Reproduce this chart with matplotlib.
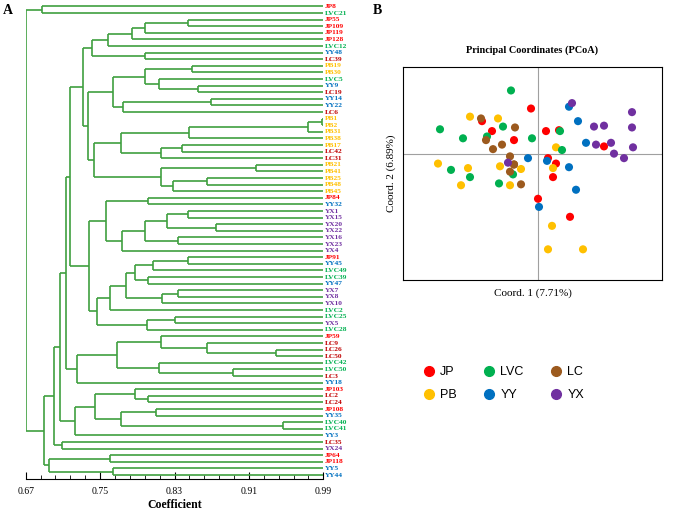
import matplotlib
matplotlib.use("Agg")
import matplotlib.pyplot as plt
from matplotlib.lines import Line2D

plt.rcParams['font.family'] = ['Liberation Serif', 'DejaVu Serif']

# leaf order of the UPGMA tree (top to bottom)
leaves = ["JP8", "LVC21", "JP55", "JP109", "JP119", "JP128", "LVC12", "YY48", "LC39",
          "PB19", "PB30", "LVC5", "YY9", "LC19", "YY14", "YY22", "LC6", "PB1", "PB2",
          "PB31", "PB38", "PB17", "LC42", "LC31", "PB21", "PB41", "PB25", "PB48", "PB45",
          "JP84", "YY32", "YX1", "YX15", "YX20", "YX22", "YX16", "YX23", "YX4", "JP91",
          "YY45", "LVC49", "LVC39", "YY47", "YX7", "YX8", "YX10", "LVC2", "LVC25", "YX5",
          "LVC28", "JP59", "LC9", "LC26", "LC50", "LVC42", "LVC50", "LC3", "YY18", "JP103",
          "LC2", "LC24", "JP108", "YY35", "LVC40", "LVC41", "YY3", "LC35", "YX24", "JP64",
          "JP118", "YY5", "YY44"]

# merges: (node, left, right, coefficient)
merges = [
    ("a1", "JP8", "LVC21", 0.687),
    ("a2", "JP55", "JP109", 0.845),
    ("a3", "a2", "JP119", 0.798),
    ("a4", "a3", "JP128", 0.784),
    ("a5", "a4", "LVC12", 0.758),
    ("a6", "YY48", "LC39", 0.798),
    ("a7", "a5", "a6", 0.741),
    ("b1", "PB19", "PB30", 0.849),
    ("b2", "YY9", "LC19", 0.855),
    ("b3", "LVC5", "b2", 0.813),
    ("b4", "b1", "b3", 0.798),
    ("b5", "YY14", "YY22", 0.869),
    ("b6", "b5", "LC6", 0.775),
    ("b7", "b4", "b6", 0.764),
    ("c1", "PB1", "PB2", 0.989),
    ("c2", "c1", "PB31", 0.974),
    ("c3", "c2", "PB38", 0.846),
    ("c4", "PB17", "LC42", 0.838),
    ("c5", "c4", "LC31", 0.816),
    ("c6", "c3", "c5", 0.773),
    ("c7", "PB21", "PB41", 0.918),
    ("c8", "PB25", "PB48", 0.865),
    ("c9", "c8", "PB45", 0.828),
    ("c10", "c7", "c9", 0.816),
    ("c11", "c6", "c10", 0.743),
    ("c12", "b7", "c11", 0.737),
    ("c13", "a7", "c12", 0.732),
    ("d1", "JP84", "YY32", 0.802),
    ("d2", "YX1", "YX15", 0.845),
    ("d3", "YX20", "YX22", 0.875),
    ("d4", "d2", "d3", 0.822),
    ("d5", "YX16", "YX23", 0.834),
    ("d6", "d4", "d5", 0.798),
    ("d7", "d6", "YX4", 0.774),
    ("d8", "d1", "d7", 0.756),
    ("e1", "JP91", "YY45", 0.844),
    ("e2", "e1", "LVC49", 0.807),
    ("e3", "LVC39", "YY47", 0.802),
    ("e4", "e2", "e3", 0.787),
    ("e5", "YX7", "YX8", 0.834),
    ("e6", "e5", "YX10", 0.817),
    ("e7", "e4", "e6", 0.778),
    ("e8", "e7", "LVC2", 0.761),
    ("e9", "LVC25", "YX5", 0.831),
    ("e10", "e9", "LVC28", 0.800),
    ("e11", "e8", "e10", 0.747),
    ("e12", "d8", "e11", 0.738),
    ("f1", "c13", "e12", 0.718),
    ("g1", "LC26", "LC50", 0.939),
    ("g2", "LC9", "g1", 0.865),
    ("g3", "JP59", "g2", 0.816),
    ("g4", "LVC50", "LC3", 0.893),
    ("g5", "LVC42", "g4", 0.813),
    ("g6", "g3", "g5", 0.768),
    ("g7", "g6", "YY18", 0.725),
    ("f2", "f1", "g7", 0.713),
    ("h1", "LC2", "LC24", 0.802),
    ("h2", "JP103", "h1", 0.787),
    ("h3", "JP108", "YY35", 0.810),
    ("h4", "LVC40", "LVC41", 0.947),
    ("h5", "h3", "h4", 0.773),
    ("h6", "h2", "h5", 0.745),
    ("h7", "h6", "YY3", 0.723),
    ("f3", "f2", "h7", 0.707),
    ("i1", "LC35", "YX24", 0.709),
    ("f4", "f3", "i1", 0.700),
    ("j1", "JP64", "JP118", 0.761),
    ("j2", "YY5", "YY44", 0.764),
    ("j3", "j1", "j2", 0.695),
    ("f5", "f4", "j3", 0.690),
    ("root", "a1", "f5", 0.670),
]

groups = ["JP", "PB", "LVC", "YY", "LC", "YX"]
group_colors = ["#ff0000", "#ffc000", "#00b050", "#0070c0", "#9c5a1e", "#7030a0"]
label_colors = {"JP": "#ff0000", "PB": "#ffc000", "LVC": "#00b050",
                "YY": "#0070c0", "LC": "#c00000", "YX": "#7030a0"}

# PCoA scores (coord1, coord2) per population
pcoa_x = {
    "JP": [-0.07, -0.56, -0.46, 0.08, 0.21, -0.24, 0.66, 0.10, 0.18, 0.15, 0.0, 0.32],
    "PB": [-0.68, -0.40, 0.18, -1.00, -0.70, -0.38, -0.77, -0.28, -0.17, 0.15, 0.14, 0.10, 0.45],
    "LVC": [-0.27, -0.98, -0.75, -0.51, -0.35, -0.06, 0.22, 0.24, -0.87, -0.68, -0.39, -0.25],
    "YY": [0.31, 0.40, -0.10, 0.09, 0.31, 0.38, 0.01, 0.48],
    "LC": [-0.57, -0.23, -0.52, -0.45, -0.36, -0.28, -0.24, -0.28, -0.17, -0.24],
    "YX": [0.34, 0.56, 0.66, 0.94, 0.58, 0.73, 0.95, 0.86, 0.76, -0.30, 0.94],
}
pcoa_y = {
    "JP": [0.50, 0.36, 0.25, 0.25, 0.26, 0.15, 0.08, -0.05, -0.11, -0.26, -0.50, -0.70],
    "PB": [0.41, 0.39, 0.07, -0.11, -0.16, -0.14, -0.35, -0.35, -0.17, -0.16, -0.80, -1.06, -1.06],
    "LVC": [0.70, 0.27, 0.17, 0.19, 0.30, 0.17, 0.25, 0.04, -0.18, -0.26, -0.33, -0.23],
    "YY": [0.52, 0.36, -0.05, -0.08, -0.15, -0.40, -0.59, 0.12],
    "LC": [0.39, 0.29, 0.15, 0.05, 0.10, -0.03, -0.12, -0.20, -0.34, -0.12],
    "YX": [0.56, 0.30, 0.31, 0.29, 0.10, 0.12, 0.07, -0.05, 0.00, -0.10, 0.46],
}

fig = plt.figure(figsize=(6.85, 5.12), dpi=100)

# ---------------- A: dendrogram ----------------
ax = fig.add_axes([25.7 / 685, 1 - 479 / 512, 297.6 / 685, 479 / 512])
line_kw = dict(color="#3f9f3f", lw=1.2, solid_capstyle="butt")

pos = {name: (0.99, i) for i, name in enumerate(leaves)}
for node, a, b, c in merges:
    xa, ya = pos[a]
    xb, yb = pos[b]
    ax.plot([c, xa], [ya, ya], **line_kw)
    ax.plot([c, xb], [yb, yb], **line_kw)
    ax.plot([c, c], [ya, yb], **line_kw)
    pos[node] = (c, (ya + yb) / 2)

for i, name in enumerate(leaves):
    prefix = name.rstrip("0123456789")
    ax.text(0.9915, i, name, color=label_colors[prefix], fontsize=5.3,
            fontweight="bold", va="center", ha="left", clip_on=False)

ax.set_xlim(0.67, 0.99)
ax.set_ylim(71 + 4 / 6.6, -6.5 / 6.6)
for s in ["top", "right", "left"]:
    ax.spines[s].set_visible(False)
ax.set_yticks([])
ax.set_xticks([0.67, 0.75, 0.83, 0.91, 0.99])
ax.set_xticks([0.67 + 0.016 * k for k in range(21)], minor=True)
ax.tick_params(axis="x", which="major", direction="in", length=5, labelsize=7, pad=6)
ax.tick_params(axis="x", which="minor", direction="in", length=3)
ax.set_xlabel("Coefficient", fontsize=8.5, fontweight="bold", labelpad=2)
fig.text(3 / 685, 1 - 10 / 512, "A", fontsize=10, fontweight="bold", va="center")

# ---------------- B: PCoA ----------------
bx = fig.add_axes([403 / 685, 1 - 280 / 512, 259 / 685, 213 / 512])
for g, col in zip(groups, group_colors):
    bx.scatter(pcoa_x[g], pcoa_y[g], s=34, color=col, edgecolors="none", zorder=3)
bx.axhline(0, color="#a0a0a0", lw=0.8, zorder=1)
bx.axvline(0, color="#a0a0a0", lw=0.8, zorder=1)
bx.set_xlim(-1.35, 1.24)
bx.set_ylim(-1.40, 0.96)
bx.set_xticks([])
bx.set_yticks([])
for s in bx.spines.values():
    s.set_linewidth(0.8)
bx.set_title("Principal Coordinates (PCoA)", fontsize=7.4, fontweight="bold", pad=10)
bx.set_xlabel("Coord. 1 (7.71%)", fontsize=8, labelpad=6)
bx.set_ylabel("Coord. 2 (6.89%)", fontsize=8, labelpad=5)
fig.text(373 / 685, 1 - 10 / 512, "B", fontsize=10, fontweight="bold", va="center")

handles = [Line2D([], [], marker="o", ls="none", color=c, markersize=7) for c in group_colors]
fig.legend(handles, groups, loc="upper left", bbox_to_anchor=(411 / 685, 1 - 355 / 512),
           ncol=3, frameon=False, handlelength=1.0, handletextpad=0.4, columnspacing=2.1,
           labelspacing=0.9, prop={"family": ["Liberation Sans"], "size": 9})

fig.savefig("out.png", dpi=100)
